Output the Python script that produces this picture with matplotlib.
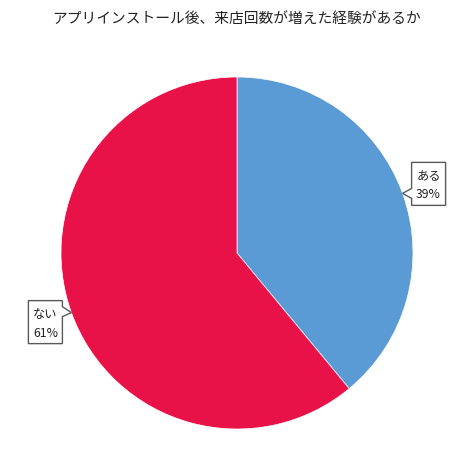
import matplotlib
matplotlib.use('Agg')
import matplotlib.pyplot as plt
import numpy as np
from matplotlib.patches import Polygon

plt.rcParams['font.family'] = ['Noto Sans CJK JP', 'DejaVu Sans']

# data
labels = ['ある', 'ない']
values = [39, 61]
colors = ['#5B9BD5', '#E81148']
title = 'アプリインストール後、来店回数が増えた経験があるか'

W, H = 474, 471
fig = plt.figure(figsize=(W / 100.0, H / 100.0), dpi=100)
fig.patch.set_facecolor('white')

# pie axes: centre (237,253) px, radius 176 px
r_px = 176.0
cx, cy = 237.0, 253.0
ax = fig.add_axes([(cx - r_px) / W, (H - cy - r_px) / H, 2 * r_px / W, 2 * r_px / H])
wedges, _ = ax.pie(values, colors=colors, startangle=90, counterclock=False,
                   radius=1.0, wedgeprops=dict(linewidth=0.5, edgecolor='white'))
ax.set_xlim(-1, 1)
ax.set_ylim(-1, 1)
ax.set_aspect('auto')
ax.axis('off')

fig.text(0.5, 1 - 19.0 / H, title, ha='center', va='center', fontsize=10.6, color='#222222')

# callout boxes (box size in px, pointer on the side facing the pie)
def callout(tip, side, name, pct):
    tx, ty = tip
    bw, bh = 34.0, 43.0
    gap = 9.0
    if side == 'right':
        # box to the right of tip, pointer on left edge
        x0 = tx + gap
        x1 = x0 + bw
        y_top = ty - 31.0
        y_bot = y_top + bh
        pts = [(x0, y_top), (x1, y_top), (x1, y_bot), (x0, y_bot),
               (x0, ty + 5), (tx, ty), (x0, ty - 5)]
    else:
        x1 = tx - gap
        x0 = x1 - bw
        y_top = ty - 12.0
        y_bot = y_top + bh
        pts = [(x0, y_top), (x1, y_top), (x1, ty - 6), (tx, ty), (x1, ty + 4),
               (x1, y_bot), (x0, y_bot)]
    pts = [(px / W, 1 - py / H) for px, py in pts]
    fig.patches.append(Polygon(pts, closed=True, transform=fig.transFigure,
                               facecolor='white', edgecolor='#595959', linewidth=1.0))
    xm = (x0 + x1) / 2.0
    fig.text(xm / W, 1 - (y_top + 13.5) / H, name, ha='center', va='center',
             fontsize=8.8, color='#222222')
    fig.text(xm / W, 1 - (y_top + 32.5) / H, pct, ha='center', va='center',
             fontsize=8.8, color='#222222')

total = float(sum(values))
start = 90.0
for i, w in enumerate(wedges):
    frac = values[i] / total
    mid = start - frac * 180.0
    start = start - frac * 360.0
    ang = np.deg2rad(mid)
    tip_x = cx + r_px * np.cos(ang)
    tip_y = cy - r_px * np.sin(ang)
    side = 'right' if np.cos(ang) > 0 else 'left'
    callout((tip_x, tip_y), side, labels[i], '%d%%' % values[i])

fig.savefig('out.png', dpi=100, facecolor='white')
